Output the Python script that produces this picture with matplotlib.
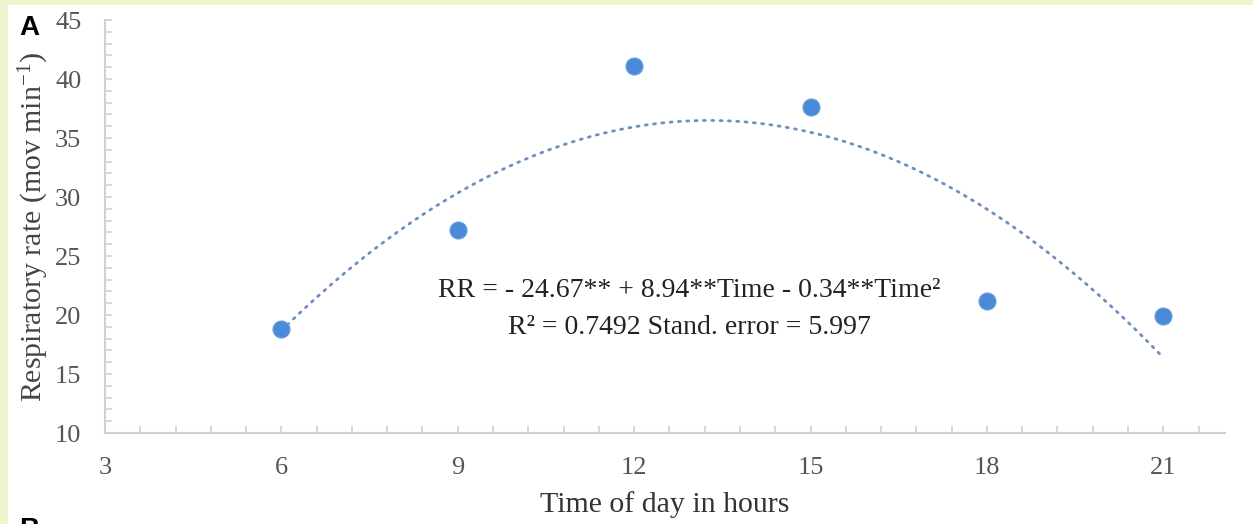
import numpy as np
import matplotlib
matplotlib.use("Agg")
import matplotlib.pyplot as plt
from matplotlib.ticker import MultipleLocator
from matplotlib.patches import Rectangle

# ---- data ----
hours = [6, 9, 12, 15, 18, 21]
resp_rate = [18.8, 27.2, 41.1, 37.6, 21.2, 19.9]
x_ticks = [3, 6, 9, 12, 15, 18, 21]
y_ticks = [10, 15, 20, 25, 30, 35, 40, 45]
eq_line1 = "RR = - 24.67** + 8.94**Time - 0.34**Time\u00b2"
eq_line2 = "R\u00b2 = 0.7492 Stand. error = 5.997"

plt.rcParams['font.family'] = ['Liberation Serif', 'DejaVu Serif']
plt.rcParams['mathtext.fontset'] = 'custom'
plt.rcParams['mathtext.rm'] = 'Liberation Serif'
plt.rcParams['mathtext.it'] = 'Liberation Serif:italic'

fig = plt.figure(figsize=(12.53, 5.24), dpi=100)
fig.patch.set_facecolor('white')
# light yellow frame of the page
fig.patches.append(Rectangle((0, 1 - 5/524), 1, 5/524, transform=fig.transFigure,
                             facecolor='#eef5cc', edgecolor='none', zorder=0))
fig.patches.append(Rectangle((0, 0), 8/1253, 1, transform=fig.transFigure,
                             facecolor='#eef5cc', edgecolor='none', zorder=0))

ax = fig.add_axes([105/1253, 1 - 433/524, (1225 - 105)/1253, (433 - 20)/524])
ax.set_facecolor('none')

# trendline (second-order polynomial fit, as in the spreadsheet)
coef = np.polyfit(hours, resp_rate, 2)
xs = np.linspace(min(hours), max(hours), 300)
ax.plot(xs, np.polyval(coef, xs), linestyle=(0, (0.7, 2.3)), color='#6b90bd',
        linewidth=2.0, dash_capstyle='round', zorder=2)

ax.scatter(hours, resp_rate, s=150, color='#4a8ad6', edgecolors='#66a0e0',
           linewidths=0.8, zorder=3)

ax.set_xlim(3, 22.05)
ax.set_ylim(10, 45)
ax.set_xticks(x_ticks)
ax.set_yticks(y_ticks)
ax.xaxis.set_minor_locator(MultipleLocator(0.6))
ax.yaxis.set_minor_locator(MultipleLocator(1))

for s in ['top', 'right']:
    ax.spines[s].set_visible(False)
for s in ['left', 'bottom']:
    ax.spines[s].set_color('#d0d0d0')
    ax.spines[s].set_linewidth(1.5)

ax.tick_params(axis='both', which='both', direction='in', color='#d0d0d0',
               width=1.2, length=5)
ax.tick_params(axis='x', which='major', labelsize=19, labelcolor='#555555', pad=17)
ax.tick_params(axis='y', which='major', labelsize=19, labelcolor='#555555', pad=17)

ax.set_xlabel('Time of day in hours', fontsize=21.5, color='#333333', labelpad=9)
ax.set_ylabel(r'Respiratory rate (mov min$^{\mathregular{-1}}$)', fontsize=21.5,
              color='#444444', labelpad=3)

ax.text(0.522, 0.344, eq_line1, transform=ax.transAxes, ha='center', va='center',
        fontsize=20, color='#222222')
ax.text(0.522, 0.256, eq_line2, transform=ax.transAxes, ha='center', va='center',
        fontsize=20, color='#222222')

fig.text(19/1253, 1 - 28/524, 'A', fontsize=20, fontweight='bold',
         family='Liberation Sans', color='black', va='center', ha='left')
fig.text(19/1253, 1 - 530/524, 'B', fontsize=20, fontweight='bold',
         family='Liberation Sans', color='black', va='center', ha='left')

fig.savefig('out.png', dpi=100)
